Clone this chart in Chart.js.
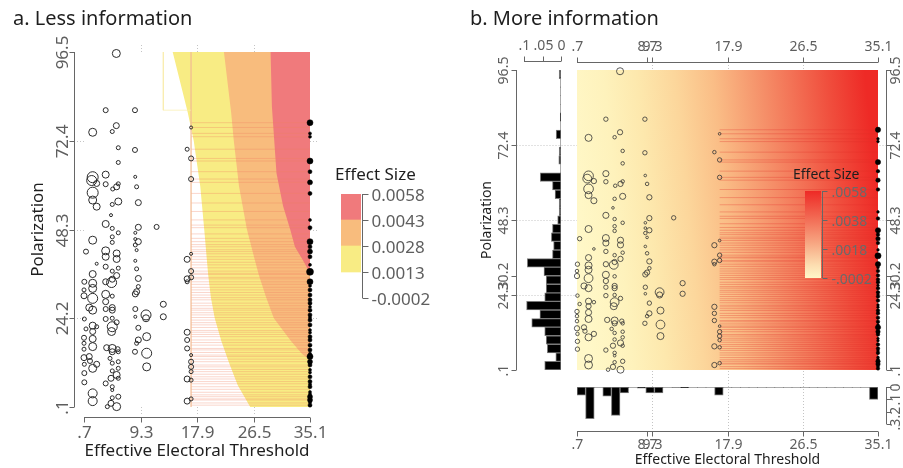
<!DOCTYPE html>
<html><head><meta charset="utf-8">
<script src="https://cdn.jsdelivr.net/npm/chart.js"></script>
<style>
html,body{margin:0;padding:0;background:#fff;width:903px;height:468px;overflow:hidden}
canvas{position:absolute;left:0;top:0}
</style></head>
<body>
<canvas id="cA" width="903" height="468"></canvas>
<canvas id="cLA" width="903" height="468"></canvas>
<canvas id="cB" width="903" height="468"></canvas>
<canvas id="cHL" width="903" height="468"></canvas>
<canvas id="cHB" width="903" height="468"></canvas>
<canvas id="cLB" width="903" height="468"></canvas>
<script>
// ================= DATA =================
const X_MIN = 0.7, X_MAX = 35.1, Y_MIN = 0.1, Y_MAX = 96.5;

// open circles: effective electoral threshold, polarization, magnitude (bubble size)
const threshold = [5.62,4.0,8.46,5.62,5.0,2.02,17.0,5.92,8.46,16.4,17.0,5.92,17.0,2.02,1.87,4.0,8.5,2.63,4.0,5.92,5.67,5.07,8.71,2.02,2.02,2.63,5.92,5.0,8.97,4.81,4.0,5.0,5.92,8.97,11.75,8.51,2.02,5.0,5.0,8.51,8.97,8.51,8.71,1.0,4.0,5.67,4.0,5.67,8.51,2.63,4.0,5.92,5.0,8.71,2.02,5.67,5.0,4.9,8.97,0.75,2.02,4.0,2.02,8.97,8.71,0.7,0.7,2.02,4.0,5.0,8.51,4.0,12.77,1.5,4.0,5.0,5.0,2.02,8.51,10.14,10.14,12.77,8.51,4.0,5.0,0.75,5.67,2.02,1.0,5.0,8.97,16.4,17.0,16.4,17.0,17.0,16.4,2.63,2.02,4.9,10.24,0.7,2.02,8.97,8.71,0.7,2.02,4.15,5.0,5.82,0.7,5.0,5.92,8.46,10.24,0.7,1.5,1.61,4.66,5.92,0.75,2.02,2.63,5.0,5.92,10.24,5.0,0.75,5.67,4.81,5.92,4.0,0.75,5.0,5.0,2.02,2.02,5.92,5.0,4.81,5.67,4.25,16.4,16.4,16.4,17.0,17.0,17.0,17.0,16.4,17.0,16.4,17.0];
const polarization = [96.1,80.7,80.7,76.5,74.9,74.7,76.0,70.5,69.9,70.1,67.6,66.5,62.0,62.5,61.6,63.2,62.6,60.8,60.6,60.7,59.9,59.3,59.9,58.3,56.3,54.5,55.9,55.1,55.6,52.2,49.8,48.6,47.4,48.9,49.0,47.4,45.4,46.3,44.8,45.7,45.0,44.1,42.7,42.3,42.5,41.8,40.9,40.3,39.8,39.0,38.2,37.8,37.0,37.6,36.2,35.8,34.8,33.9,35.0,34.1,33.7,34.1,32.3,32.8,31.4,31.9,30.3,29.6,30.7,30.2,30.8,28.7,28.0,27.1,26.7,27.1,26.4,26.4,26.7,25.1,24.2,24.6,24.6,24.0,24.2,24.0,23.1,22.2,21.3,21.9,21.6,40.2,41.7,34.9,37.0,35.3,34.1,21.9,20.6,20.6,19.2,18.9,18.6,18.3,17.4,17.4,16.5,16.2,16.0,15.8,15.8,15.1,15.1,15.1,14.7,13.5,13.8,12.6,13.3,12.4,11.7,10.6,11.7,12.0,10.6,11.0,9.9,9.3,8.8,7.9,7.9,6.5,6.8,5.6,4.7,3.8,1.7,2.9,2.6,1.1,0.2,0.2,20.4,18.3,16.0,14.2,12.4,11.0,9.7,7.7,7.4,1.7,2.3];
const magnitude = [4,2.5,2.5,3,2,4,1.5,2,2.5,2,2.5,2,2.5,5.5,5,3.5,1.5,3,2.5,2,3,2,2,5.5,4,3.5,3.5,2,3,1.5,3.5,2,2,3,2.5,1.5,4,2,2,1.5,3,2,1.5,2.5,4,3.5,3.5,3.5,1.5,1.5,2.5,2,2,2,3.5,3,3,5,3,2.5,4,3,4,2,3,2,3,5,4,2,3,3,3,3.5,2.5,3,3,4,2.5,5,3.5,3,1.5,2.5,2,2,2.5,3.5,2,5,2.5,3,1.5,3,2.5,2.5,2,2,3,4,4,2.5,3.5,3,2,2,4,3,4,2.5,2,3,2,2.5,5,3,3,2.5,2,2,2,4,3,2,2,4,2,2.5,3.5,3,2,2.5,2.5,2,1.5,4.5,4.5,2.5,2,3,4,2,3,2.5,2.5,1.5,2.5,2.5,2,3,2,3,2];

// filled dots at the maximum threshold
const dotThreshold = 35.1;
const dotPolar = [77.3,74.4,73.5,66.9,64.0,61.1,58.1,50.9,48.8,45.0,43.6,42.3,40.9,38.7,36.8,34.1,33.0,31.9,30.5,29.2,28.3,27.3,26.4,25.1,24.4,23.7,22.4,21.0,20.3,19.2,18.3,16.9,15.6,14.6,13.8,12.4,11.5,10.2,9.5,8.3,7.0,6.3,5.6,4.2,3.6,2.9,2.0,1.3,0.6];
const dotMag = [3,1.5,1.5,3,2,2.5,2,1.5,2,3,2,2.5,2,1.5,3.5,3,1.5,2,2,2,2,1.5,2,2,1.5,2,2,1.5,1.5,2,2,2,2,1.5,3,2.5,2,1.5,1.5,2,2,1.5,2,1.5,1.5,2.5,2.5,1.5,2];

// rug of observations (horizontal stripes)
const stripeStart = 17.0, stripeEnd = 35.1;
const stripePolar = [77.3,76.0,74.4,73.5,70.1,67.6,66.9,64.0,62.0,61.1,58.1,55.5,53.2,50.9,49.5,48.8,47.1,45.9,45.0,44.2,43.6,42.8,42.3,41.7,40.9,40.2,39.4,38.7,37.9,37.0,36.4,36.1,35.3,34.9,34.1,33.4,32.6,31.9,31.2,30.5,29.8,29.2,28.3,27.6,26.9,26.4,25.7,25.1,24.4,23.7,23.0,22.4,21.7,20.9,20.4,19.8,19.2,18.3,17.6,16.9,16.0,15.6,14.9,14.2,13.8,13.1,12.4,11.5,11.0,10.3,9.7,9.0,8.3,7.7,7.0,6.4,5.6,4.9,4.1,3.4,2.9,2.3,2.0,1.2,0.6];

// effect-size contours, panel a (threshold where each level begins, by polarization)
const yellowPolar = [96.5,80,72.4,60,48.3,40,36,30,24.2,18,12,6,0.1];
const yellowEdge  = [14.2,16.5,17.4,18.4,19.0,19.4,19.6,20.0,20.6,21.6,22.8,24.1,26.0];
const orangePolar = [96.5,80,72.4,60,48.3,40,36,30,24.2,18,14.5,12.9];
const orangeEdge  = [22.0,23.1,23.5,24.3,25.5,26.7,27.3,28.4,29.6,32.2,33.9,35.1];
const redPolar = [96.5,81.7,63.6,54.7,48.2,43.6,40.0,36.5];
const redEdge  = [29.1,29.3,30.0,31.0,32.1,32.8,34.0,35.1];
const boxThreshold = [12.77, 17.0], boxPolar = 80.7;

// ticks
const aXTicks = [0.7, 9.3, 17.9, 26.5, 35.1], aXLabels = ['.7','9.3','17.9','26.5','35.1'];
const aYTicks = [0.1, 24.2, 48.3, 72.4, 96.5], aYLabels = ['.1','24.2','48.3','72.4','96.5'];
const gridX = [9.3, 17.9, 26.5], gridY = [24.2, 48.3, 72.4];
const bXTicks = [0.7, 8.7, 9.3, 17.9, 26.5, 35.1], bXLabels = ['.7','8.7','9.3','17.9','26.5','35.1'];
const bYTicks = [0.1, 24.3, 30.2, 48.3, 72.4, 96.5], bYLabels = ['.1','24.3','30.2','48.3','72.4','96.5'];

// legends
const legendALevels = [-0.0002, 0.0013, 0.0028, 0.0043, 0.0058];
const legendALabels = ['-0.0002','0.0013','0.0028','0.0043','0.0058'];
const legendBTicks = [-0.0002, 0.0018, 0.0038, 0.0058];
const legendBLabels = ['-.0002','.0018','.0038','.0058'];

// marginal histograms (densities, 35 bins each)
const histPolar = [0.044,0.014,0.037,0.040,0.044,0.079,0.057,0.093,0.044,0.040,0.040,0.046,0.091,0.023,0.020,0.026,0.023,0.009,0.005,0.005,0.016,0.023,0.056,0,0.006,0.005,0,0.013,0,0.002,0,0,0,0,0.005];
const histThr = [0.066,0.257,0,0.074,0.230,0.047,0,0.010,0.047,0.047,0,0.003,0.005,0,0,0,0.066,0,0,0,0,0,0,0,0,0,0,0,0,0,0,0,0,0,0.100];
const histPolarTicks = [0.1, 0.05, 0], histPolarLabels = ['.1','.05','0'];
const histThrTicks = [0, 0.1, 0.2, 0.3], histThrLabels = ['0','.1','.2','.3'];

// ================= STYLE / HELPERS =================
const W = 903, H = 468;
const FONT = '"Noto Sans", "Open Sans", "DejaVu Sans", sans-serif';
const AXIS = '#666', TICK = '#5e5e5e', TITLE = '#1e1e1e', GRID = '#c4c4c4';
const ROT = -Math.PI / 2;
const snap = v => Math.round(v) + 0.5;
function T(ctx, s, x, y, size, color, align, base, rot) {
  ctx.save();
  ctx.font = size + 'px ' + FONT;
  ctx.fillStyle = color; ctx.textAlign = align || 'center'; ctx.textBaseline = base || 'alphabetic';
  ctx.translate(x, y); if (rot) ctx.rotate(rot);
  ctx.fillText(s, 0, 0); ctx.restore();
}
function L(ctx, x1, y1, x2, y2, color, w, dash) {
  ctx.save(); ctx.strokeStyle = color; ctx.lineWidth = w || 1; if (dash) ctx.setLineDash(dash);
  ctx.beginPath(); ctx.moveTo(x1, y1); ctx.lineTo(x2, y2); ctx.stroke(); ctx.restore();
}
const hidden = (min, max, extra) => Object.assign({type: 'linear', min, max, display: false, offset: false,
  grid: {offset: false},
  afterBuildTicks: s => { s.ticks = [{value: min}, {value: max}]; }}, extra || {});
function make(id, cfg, area) {
  cfg.options = cfg.options || {};
  Object.assign(cfg.options, {
    responsive: false, animation: false, events: [], devicePixelRatio: 1,
    layout: {padding: {left: area[0], top: area[1], right: W - area[2], bottom: H - area[3]}}
  });
  cfg.options.plugins = Object.assign({legend: {display: false}, tooltip: {enabled: false}, title: {display: false}}, cfg.options.plugins || {});
  return new Chart(document.getElementById(id), cfg);
}
const circlePts = k => threshold.map((x, i) => ({x, y: polarization[i], r: magnitude[i] * k}));
const dotPts = k => dotPolar.map((y, i) => ({x: dotThreshold, y, r: dotMag[i] * k}));
function stripePts() {
  const pts = [];
  stripePolar.forEach(v => pts.push({x: stripeStart, y: v}, {x: stripeEnd, y: v}, {x: stripeEnd, y: null}));
  return pts;
}
const edgePts = (edge, pol) => edge.map((x, i) => ({x, y: pol[i]}));
const shape = (data, color, order) => ({type: 'line', data, fill: 'shape', backgroundColor: color,
  borderColor: 'rgba(0,0,0,0)', borderWidth: 1, pointRadius: 0, tension: 0, order});

// ================= PANEL A =================
const axesA = {
  id: 'axesA',
  beforeDatasetsDraw(chart) {
    const {ctx, chartArea: a, scales: {x, y}} = chart;
    gridX.forEach(v => { const p = snap(x.getPixelForValue(v));
      L(ctx, p, a.top - 7, p, a.top, GRID, 1, [1, 2]); L(ctx, p, a.bottom, p, a.bottom + 9, GRID, 1, [1, 2]); });
    gridY.forEach(v => { const p = snap(y.getPixelForValue(v));
      L(ctx, a.left - 10, p, a.left, p, GRID, 1, [1, 2]); L(ctx, a.right, p, a.right + 9, p, GRID, 1, [1, 2]); });
  },
  afterDraw(chart) {
    const {ctx, chartArea: a, scales: {x, y}} = chart;
    const ax = snap(a.left - 10), ay = snap(a.bottom + 10);
    L(ctx, ax, y.getPixelForValue(Y_MAX), ax, y.getPixelForValue(Y_MIN), AXIS);
    aYTicks.forEach((v, i) => { const p = snap(y.getPixelForValue(v));
      L(ctx, ax - 5, p, ax, p, AXIS); T(ctx, aYLabels[i], ax - 7, p, 17, TICK, 'center', 'alphabetic', ROT); });
    L(ctx, x.getPixelForValue(X_MIN), ay, x.getPixelForValue(X_MAX), ay, AXIS);
    aXTicks.forEach((v, i) => { const p = snap(x.getPixelForValue(v));
      L(ctx, p, ay, p, ay + 5, AXIS); T(ctx, aXLabels[i], p, ay + 20, 17, TICK); });
    T(ctx, 'Effective Electoral Threshold', (a.left + a.right) / 2, ay + 38, 17, TITLE);
    T(ctx, 'Polarization', 43, (a.top + a.bottom) / 2, 17, TITLE, 'center', 'alphabetic', ROT);
    T(ctx, 'a. Less information', 13, 25, 20, TITLE, 'left');
  }
};
make('cA', {
  type: 'bubble',
  data: {datasets: [
    {type: 'bubble', data: circlePts(1), borderColor: '#2a2a2a', borderWidth: 1, backgroundColor: 'rgba(0,0,0,0)', clip: false, order: 0},
    {type: 'bubble', data: dotPts(1), borderColor: '#000', borderWidth: 0.5, backgroundColor: '#000', clip: false, order: 0},
    {type: 'line', data: [{x: boxThreshold[0], y: Y_MAX}, {x: boxThreshold[0], y: boxPolar}, {x: boxThreshold[1], y: boxPolar}],
      borderColor: 'rgba(248,236,170,0.7)', borderWidth: 1, pointRadius: 0, fill: false, order: 1},
    {type: 'line', data: [{x: stripeStart, y: Y_MAX}, {x: stripeStart, y: Y_MIN}],
      borderColor: 'rgba(244,190,150,0.55)', borderWidth: 1, pointRadius: 0, fill: false, order: 1},
    {type: 'line', data: stripePts(), borderColor: 'rgba(240,128,96,0.32)', borderWidth: 1, pointRadius: 0, fill: false, order: 2},
    shape(edgePts(redEdge, redPolar).concat([{x: X_MAX, y: Y_MAX}]), '#F07A7C', 3),
    shape(edgePts(orangeEdge, orangePolar).concat([{x: X_MAX, y: Y_MAX}]), '#F8BC7D', 4),
    shape(edgePts(yellowEdge, yellowPolar).concat([{x: X_MAX, y: Y_MIN}, {x: X_MAX, y: Y_MAX}]), '#F8EC84', 5)
  ]},
  options: {scales: {x: hidden(X_MIN, X_MAX), y: hidden(Y_MIN, Y_MAX)}},
  plugins: [axesA]
}, [84, 52, 310, 407]);

// legend A
const legA = {
  id: 'legA',
  afterDraw(chart) {
    const {ctx, chartArea: a, scales: {y}} = chart;
    T(ctx, 'Effect Size', a.left - 6, a.top - 14, 17, TITLE, 'left');
    const ax = snap(a.right + 1);
    L(ctx, ax, y.getPixelForValue(legendALevels[4]), ax, y.getPixelForValue(legendALevels[0]), AXIS);
    legendALevels.forEach((v, i) => { const p = snap(y.getPixelForValue(v));
      L(ctx, ax, p, ax + 6, p, AXIS); T(ctx, legendALabels[i], ax + 9, p + 6, 17, TICK, 'left'); });
  }
};
const legColorsA = ['#F8EC84', '#F8BC7D', '#F07A7C'];
make('cLA', {
  type: 'bar',
  data: {labels: [''], datasets: [1, 2, 3].map(i => ({data: [[legendALevels[i], legendALevels[i + 1]]],
    backgroundColor: legColorsA[i - 1], borderWidth: 0, barPercentage: 1, categoryPercentage: 1, grouped: false}))},
  options: {scales: {x: {display: false}, y: hidden(legendALevels[0], legendALevels[4])}},
  plugins: [legA]
}, [341, 194, 361, 298]);

// ================= PANEL B =================
const heatStops = [[0,'#FFF8C8'],[0.14,'#FEF2BC'],[0.25,'#FDE8AD'],[0.375,'#FCD69B'],[0.5,'#FABD86'],[0.625,'#F6996F'],[0.75,'#F37457'],[0.875,'#F04E3D'],[1,'#EE2A26']];
const axesB = {
  id: 'axesB',
  beforeDatasetsDraw(chart) {
    const {ctx, chartArea: a, scales: {x, y}} = chart;
    gridX.forEach(v => { const p = snap(x.getPixelForValue(v)); L(ctx, p, a.top - 8, p, a.bottom + 61, GRID, 1, [1, 2]); });
    gridY.forEach(v => { const p = snap(y.getPixelForValue(v)); L(ctx, a.left - 60.5, p, a.right + 8.5, p, GRID, 1, [1, 2]); });
  },
  afterDraw(chart) {
    const {ctx, chartArea: a, scales: {x, y}} = chart;
    const xl = snap(a.left - 61), xr = snap(a.right + 8), yt = snap(a.top - 8), yb = snap(a.bottom + 61);
    const y0 = y.getPixelForValue(Y_MAX), y1 = y.getPixelForValue(Y_MIN);
    const x0 = x.getPixelForValue(X_MIN), x1 = x.getPixelForValue(X_MAX);
    L(ctx, xl, y0, xl, y1, AXIS); L(ctx, xr, y0, xr, y1, AXIS);
    bYTicks.forEach((v, i) => { const p = snap(y.getPixelForValue(v));
      L(ctx, xl - 5, p, xl, p, AXIS); L(ctx, xr, p, xr + 5, p, AXIS);
      T(ctx, bYLabels[i], xl - 9, p, 14, TICK, 'center', 'alphabetic', ROT);
      T(ctx, bYLabels[i], xr + 13, p, 14, TICK, 'center', 'alphabetic', ROT); });
    L(ctx, x0, yt, x1, yt, AXIS); L(ctx, x0, yb, x1, yb, AXIS);
    bXTicks.forEach((v, i) => { const p = snap(x.getPixelForValue(v));
      L(ctx, p, yt - 5, p, yt, AXIS); L(ctx, p, yb, p, yb + 5, AXIS);
      T(ctx, bXLabels[i], p, yt - 12, 14, TICK); T(ctx, bXLabels[i], p, yb + 17, 14, TICK); });
    T(ctx, 'Effective Electoral Threshold', (a.left + a.right) / 2, yb + 32, 14, TITLE);
    T(ctx, 'Polarization', 491, (a.top + a.bottom) / 2, 14, TITLE, 'center', 'alphabetic', ROT);
    T(ctx, 'b. More information', 470, 25, 20, TITLE, 'left');
  }
};
make('cB', {
  type: 'bubble',
  data: {datasets: [
    {type: 'bubble', data: circlePts(0.88), borderColor: '#333', borderWidth: 0.8, backgroundColor: 'rgba(0,0,0,0)', clip: false, order: 0},
    {type: 'bubble', data: dotPts(0.88), borderColor: '#000', borderWidth: 0.5, backgroundColor: '#000', clip: false, order: 0},
    {type: 'line', data: stripePts(), borderColor: 'rgba(226,48,40,0.30)', borderWidth: 1, pointRadius: 0, fill: false, order: 2},
    {type: 'line', data: [{x: X_MIN, y: Y_MAX}, {x: X_MAX, y: Y_MAX}], fill: 'start', borderColor: 'rgba(0,0,0,0)', pointRadius: 0, order: 5,
      backgroundColor: c => {
        const ch = c.chart, a = ch.chartArea;
        if (!a) return heatStops[0][1];
        const my = (a.top + a.bottom) / 2;
        const g = ch.ctx.createLinearGradient(a.left, my + 15, a.right, my - 15);
        heatStops.forEach(s => g.addColorStop(s[0], s[1]));
        return g;
      }}
  ]},
  options: {scales: {x: hidden(X_MIN, X_MAX), y: hidden(Y_MIN, Y_MAX)}},
  plugins: [axesB]
}, [577, 70, 878, 370]);

// left marginal histogram (polarization)
const polarBinW = (Y_MAX - Y_MIN) / histPolar.length;
const histLAxis = {
  id: 'histLAxis',
  afterDraw(chart) {
    const {ctx, scales: {x}} = chart;
    const yt = snap(61);
    L(ctx, x.getPixelForValue(0.1), yt, x.getPixelForValue(0), yt, AXIS);
    histPolarTicks.forEach((v, i) => { const p = snap(x.getPixelForValue(v));
      L(ctx, p, yt - 5, p, yt, AXIS); T(ctx, histPolarLabels[i], p, yt - 12, 14, TICK); });
  }
};
make('cHL', {
  type: 'bar',
  data: {datasets: [{data: histPolar.map((v, i) => ({x: v, y: Y_MIN + polarBinW * (i + 0.5)})),
    backgroundColor: '#000', borderColor: '#7a7a7a', borderWidth: c => (c.raw && c.raw.x > 0 ? 1 : 0),
    borderSkipped: false, barPercentage: 1, categoryPercentage: 1}]},
  options: {indexAxis: 'y', scales: {x: hidden(0, 0.1, {reverse: true}), y: hidden(Y_MIN, Y_MAX)}},
  plugins: [histLAxis]
}, [524, 70, 561, 370]);

// bottom marginal histogram (threshold)
const thrBinW = (X_MAX - X_MIN) / histThr.length;
const histBAxis = {
  id: 'histBAxis',
  afterDraw(chart) {
    const {ctx, scales: {y}} = chart;
    const xr = snap(886);
    L(ctx, xr, y.getPixelForValue(0), xr, y.getPixelForValue(0.3), AXIS);
    histThrTicks.forEach((v, i) => { const p = snap(y.getPixelForValue(v));
      L(ctx, xr, p, xr + 5, p, AXIS); T(ctx, histThrLabels[i], xr + 13, p, 14, TICK, 'center', 'alphabetic', ROT); });
  }
};
make('cHB', {
  type: 'bar',
  data: {datasets: [{data: histThr.map((v, i) => ({x: X_MIN + thrBinW * (i + 0.5), y: v})),
    backgroundColor: '#000', borderColor: '#7a7a7a', borderWidth: c => (c.raw && c.raw.y > 0 ? 1 : 0),
    borderSkipped: false, barPercentage: 1, categoryPercentage: 1}]},
  options: {scales: {x: hidden(X_MIN, X_MAX), y: hidden(0, 0.3, {reverse: true})}},
  plugins: [histBAxis]
}, [577, 387, 878, 424]);

// legend B
const legStopsB = [[0,'#EE2A26'],[0.3,'#F26852'],[0.6,'#F7A682'],[0.85,'#FCDDB0'],[1,'#FFF6C8']];
const legB = {
  id: 'legB',
  afterDraw(chart) {
    const {ctx, chartArea: a, scales: {y}} = chart;
    T(ctx, 'Effect Size', a.left - 12, a.top - 12, 14, TITLE, 'left');
    const ax = snap(a.right + 1);
    L(ctx, ax, y.getPixelForValue(legendBTicks[3]), ax, y.getPixelForValue(legendBTicks[0]), AXIS);
    legendBTicks.forEach((v, i) => { const p = snap(y.getPixelForValue(v));
      L(ctx, ax, p, ax + 5, p, AXIS); T(ctx, legendBLabels[i], ax + 9, p + 5, 14, '#6a6a6a', 'left'); });
  }
};
make('cLB', {
  type: 'bar',
  data: {labels: [''], datasets: [{data: [[legendBTicks[0], legendBTicks[3]]], borderWidth: 0, barPercentage: 1, categoryPercentage: 1,
    backgroundColor: c => {
      const ch = c.chart, a = ch.chartArea;
      if (!a) return legStopsB[0][1];
      const g = ch.ctx.createLinearGradient(0, a.top, 0, a.bottom);
      legStopsB.forEach(s => g.addColorStop(s[0], s[1]));
      return g;
    }}]},
  options: {scales: {x: {display: false}, y: hidden(legendBTicks[0], legendBTicks[3])}},
  plugins: [legB]
}, [805, 191, 821, 278]);
</script>
</body></html>
